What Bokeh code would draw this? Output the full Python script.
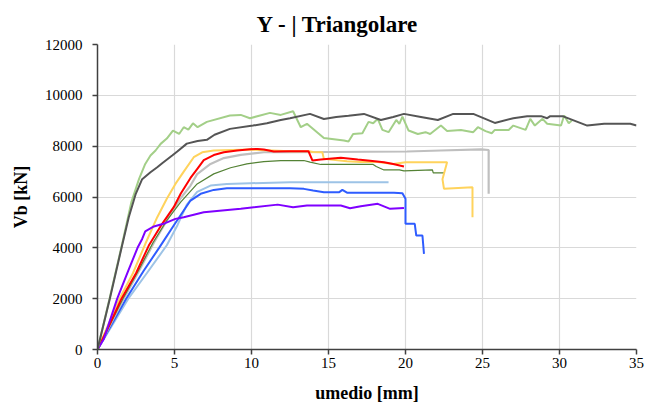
from bokeh.plotting import figure
from bokeh.embed import file_html
from bokeh.resources import INLINE
from bokeh.models import FixedTicker, Range1d

# ---------------- data ----------------
x_ticks = [0, 5, 10, 15, 20, 25, 30, 35]
y_ticks = [0, 2000, 4000, 6000, 8000, 10000, 12000]

dgrey_x = [0, 0.8, 1.6, 2.03, 2.47, 2.9, 3.44, 3.88, 4.2, 4.85, 5.2, 5.8, 6.5, 7.1, 7.6, 8.6, 10.1, 11.0, 11.9, 12.5,
           13.8, 14.7, 15.5, 16.3, 17.3, 18.4, 19.2, 19.9, 21.0, 22.1, 23.1, 24.4, 25.8, 27.0, 27.9, 28.8, 29.2, 29.4,
           30.2, 31.8, 32.9, 34.6, 35.0]
dgrey_y = [0, 2000, 4100, 5200, 6100, 6700, 6975, 7170, 7330, 7630, 7800, 8100, 8200, 8250, 8450, 8680, 8810, 8900, 9030, 9100,
           9270, 9070, 9150, 9200, 9270, 9030, 9150, 9270, 9150, 9030, 9270, 9270, 8915, 9100, 9180, 9180, 9100, 9180,
           9180, 8810, 8880, 8880, 8810]

green_x = [0, 0.8, 1.6, 2.2, 2.7, 3.1, 3.44, 3.77, 4.1, 4.5, 4.9, 5.3, 5.6, 5.9, 6.2, 6.5, 7.1, 8.6, 9.3, 9.9, 11.2, 11.9,
           12.7, 13.2, 13.6, 14.7, 16.0, 16.3, 16.6, 17.2, 17.6, 17.9, 18.2, 18.5, 18.9, 19.4, 19.6, 19.8, 20.2, 20.8,
           21.3, 21.6, 22.3, 22.7, 23.6, 24.4, 24.7, 25.2, 25.6, 25.8, 26.7, 27.0, 27.8, 28.1, 28.4, 28.9, 29.2, 30.1,
           30.3, 30.6, 30.8]
green_y = [0, 2050, 4150, 5800, 6715, 7300, 7630, 7830, 8090, 8300, 8615, 8480, 8745, 8650, 8900, 8745, 8955, 9205, 9230, 9100, 9310, 9230,
           9375, 8745, 8880, 8320, 8220, 8180, 8480, 8510, 8955, 8900, 9075, 8640, 8550, 9030, 8880, 9165, 8615, 8480,
           8550, 8480, 8810, 8600, 8640, 8550, 8745, 8590, 8510, 8640, 8640, 8810, 8640, 9075, 8810, 9075, 8880, 8810,
           9205, 8900, 9010]

yellow_x = [0, 1.43, 2.3, 3.1, 3.88, 4.5, 5.06, 5.6, 6.25, 6.8, 7.55, 9.9, 12.5, 13.7, 14.0, 14.6, 14.7, 16.2, 17.1, 18.2,
            19.2, 20.0, 22.7, 22.4, 22.5, 24.35, 24.35]
yellow_y = [0, 2000, 3000, 4150, 5205, 5930, 6515, 7000, 7565, 7760, 7830, 7870, 7800, 7800, 7770, 7760, 7500, 7410, 7380, 7380,
            7300, 7370, 7370, 6700, 6320, 6385, 5205]

red_x = [0, 0.8, 1.56, 2.5, 3.33, 4.2, 4.95, 5.4, 6.04, 6.47, 6.9, 7.55, 8.2, 9.07, 9.9, 10.4, 10.8, 11.45, 12.5, 13.7,
         13.96, 14.5, 15.8, 16.9, 17.7, 18.6, 19.2, 19.9]
red_y = [0, 1000, 2000, 3000, 4090, 4945, 5600, 6125, 6750, 7100, 7450, 7650, 7760, 7830, 7880, 7890, 7870, 7790, 7800, 7800,
         7435, 7475, 7540, 7475, 7430, 7370, 7300, 7200]

lgrey_x = [0, 1.7, 2.7, 3.66, 4.5, 5.4, 6.04, 6.47, 7.34, 8.2, 9.3, 10.8, 12.5, 20.1, 22.3, 24.9, 25.4, 25.4]
lgrey_y = [0, 2000, 3100, 4200, 5075, 5950, 6450, 6900, 7300, 7530, 7660, 7760, 7760, 7790, 7830, 7870, 7850, 6125]

dgreen_x = [0, 1.65, 2.65, 3.6, 4.5, 5.4, 6.47, 7.55, 8.64, 9.7, 10.8, 11.9, 13.4, 13.8, 14.5, 17.9, 18.1, 18.6, 19.6,
            19.9, 21.75, 21.8, 22.5]
dgreen_y = [0, 2000, 3100, 4200, 5075, 5800, 6515, 6910, 7150, 7300, 7395, 7435, 7435, 7370, 7280, 7280, 7200, 7065, 7065,
            7030, 7065, 6950, 6950]

blue_x = [0, 1.86, 3.0, 4.0, 4.95, 5.6, 6.04, 6.7, 7.55, 8.4, 9.9, 12.5, 13.4, 14.0, 14.7, 15.7, 15.9, 16.2, 19.25, 19.8,
          20.0, 20.0, 20.6, 20.7, 21.1, 21.2]
blue_y = [0, 2000, 3100, 4000, 4880, 5470, 5860, 6125, 6280, 6345, 6345, 6340, 6320, 6255, 6190, 6190, 6280, 6170, 6170, 6150,
          5930, 4945, 4945, 4485, 4485, 3760]

lblue_x = [0, 2.0, 3.2, 4.5, 5.2, 5.8, 6.47, 7.34, 8.4, 9.9, 12.5, 18.9]
lblue_y = [0, 2000, 3000, 4100, 4900, 5700, 6200, 6450, 6515, 6540, 6580, 6580]

purple_x = [0, 0.4, 1.28, 2.0, 2.6, 2.9, 3.1, 3.66, 4.4, 5.06, 5.6, 6.9, 9.3, 11.7, 12.7, 13.6, 15.8, 16.4, 17.1, 18.2,
            19.0, 19.9]
purple_y = [0, 400, 2000, 3100, 4000, 4350, 4650, 4840, 4970, 5140, 5205, 5400, 5535, 5700, 5600, 5665, 5665, 5560, 5640, 5730,
            5535, 5570]

FONT = "Liberation Serif"

p = figure(width=646, height=405, output_backend="svg", toolbar_location=None,
           x_range=Range1d(0, 35), y_range=Range1d(0, 12000),
           min_border_left=97, min_border_right=10, min_border_top=44, min_border_bottom=56)

p.title.text = "Y - | Triangolare"
p.title.align = "left"
p.title.offset = 159
p.title.text_font = FONT
p.title.text_font_size = "23px"
p.title.text_font_style = "bold"
p.title.text_color = "#000000"
p.title.standoff = 16

p.outline_line_color = None
p.background_fill_color = "white"
p.border_fill_color = "white"

for ax in (p.xaxis[0], p.yaxis[0]):
    ax.axis_line_color = "#404040"
    ax.axis_line_width = 1.5
    ax.major_tick_line_color = "#404040"
    ax.major_tick_line_width = 1.5
    ax.major_tick_out = 5
    ax.major_tick_in = 0
    ax.minor_tick_line_color = None
    ax.major_label_text_font = FONT
    ax.major_label_text_font_size = "15px"
    ax.major_label_text_color = "#000000"
    ax.axis_label_text_font = FONT
    ax.axis_label_text_font_size = "18px"
    ax.axis_label_text_font_style = "bold"
    ax.axis_label_text_color = "#000000"

p.xaxis.ticker = FixedTicker(ticks=x_ticks)
p.yaxis.ticker = FixedTicker(ticks=y_ticks)
p.xaxis.axis_label = "umedio [mm]"
p.yaxis.axis_label = "Vb [kN]"
p.xaxis.major_label_standoff = 3
p.yaxis.major_label_standoff = 10
p.xaxis.axis_label_standoff = 12
p.yaxis.axis_label_standoff = 11

p.xgrid.ticker = FixedTicker(ticks=x_ticks)
p.ygrid.ticker = FixedTicker(ticks=y_ticks)
p.xgrid.grid_line_color = "#D9D9D9"
p.ygrid.grid_line_color = "#D9D9D9"
p.xgrid.grid_line_width = 1.2
p.ygrid.grid_line_width = 1.2

series = [
    (lblue_x, lblue_y, "#9DC3E6", 2.0),
    (blue_x, blue_y, "#2E5CFF", 2.0),
    (lgrey_x, lgrey_y, "#BFBFBF", 2.2),
    (dgreen_x, dgreen_y, "#548235", 1.2),
    (yellow_x, yellow_y, "#FFD35C", 2.0),
    (red_x, red_y, "#FF0000", 2.0),
    (purple_x, purple_y, "#7F00FF", 2.0),
    (green_x, green_y, "#A3CF88", 2.0),
    (dgrey_x, dgrey_y, "#555555", 2.0),
]
for xs, ys, c, w in series:
    p.line(xs, ys, line_color=c, line_width=w)

open("out.html", "w").write(file_html(p, INLINE))
